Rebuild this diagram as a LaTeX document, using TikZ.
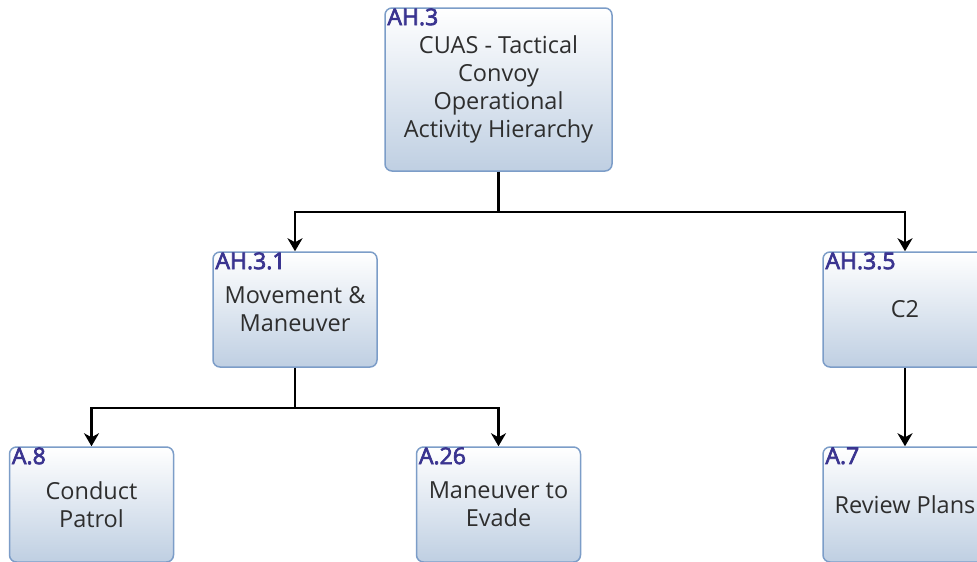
\documentclass[tikz,border=0pt]{standalone}
\usepackage{fontspec}
\setmainfont{Open Sans}
\newfontfamily\idfont[FakeBold=3]{Open Sans}
\usetikzlibrary{arrows.meta}
\definecolor{boxline}{HTML}{7C9DC8}
\definecolor{boxfill}{HTML}{BFCFE2}
\definecolor{idblue}{HTML}{3A3490}
\definecolor{bodytext}{HTML}{2E2E2E}

\begin{document}
\begin{tikzpicture}[x=1pt,y=-1pt,
	act/.style={draw=boxline, line width=1.5pt, rounded corners=7pt,
		top color=white, bottom color=boxfill,
		minimum width=164, minimum height=115, inner sep=1pt,
		align=center, text=bodytext,
		font=\fontsize{23.5}{28}\selectfont},
	actid/.style={label={[anchor=north west, inner xsep=3pt, inner ysep=1pt, text=idblue,
		font=\idfont\fontsize{23}{23}\selectfont]north west:#1}},
	link/.style={line width=2.4pt, -{Stealth[length=13pt,width=15pt,inset=4pt]}}]
	\useasboundingbox[fill=white] (0,0) rectangle (977,562);
	\begin{scope}
	\clip (0,0) rectangle (977,562);
	% top level
	\node[act, actid=AH.3, minimum width=227, minimum height=163] (hier) at (498.5,89.5)
		{CUAS - Tactical\\Convoy\\Operational\\Activity Hierarchy};
	% second level
	\node[act, actid=AH.3.1] (move) at (295,309.5) {Movement \&\\Maneuver};
	\node[act, actid=AH.3.5] (ctwo) at (905,309.5) {C2};
	% leaf activities
	\node[act, actid=A.8] (patrol) at (91.5,504.5) {Conduct\\Patrol};
	\node[act, actid=A.26] (evade) at (498.5,504.5) {Maneuver to\\Evade};
	\node[act, actid=A.7] (plans) at (905,504.5) {Review Plans};
	% connectors
	\draw[link] (hier.south) -- ++(0,40) -| (move.north);
	\draw[link] (hier.south) -- ++(0,40) -| (ctwo.north);
	\draw[link] (move.south) -- ++(0,40) -| (patrol.north);
	\draw[link] (move.south) -- ++(0,40) -| (evade.north);
	\draw[link] (ctwo.south) -- (plans.north);
	\end{scope}
\end{tikzpicture}
\end{document}
